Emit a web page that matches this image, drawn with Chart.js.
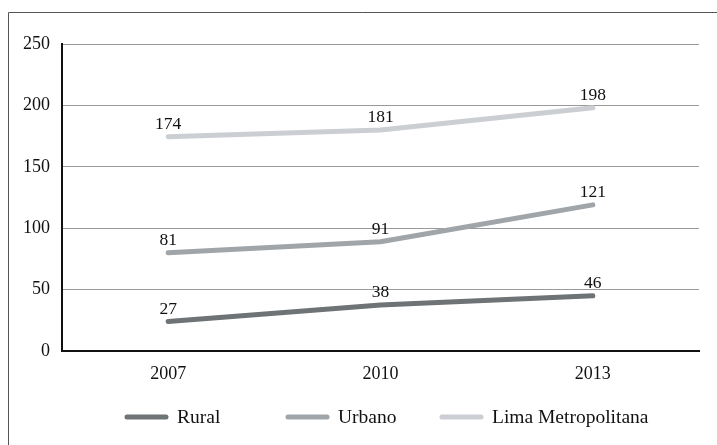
<!DOCTYPE html>
<html>
<head>
<meta charset="utf-8">
<script src="https://cdn.jsdelivr.net/npm/chart.js@4.4.1/dist/chart.umd.min.js"></script>
<style>
html,body{margin:0;padding:0;background:#fff;}
#wrap{position:relative;width:717px;height:445px;}
canvas{display:block;}
</style>
</head>
<body>
<div id="wrap"><canvas id="c" width="717" height="445"></canvas></div>
<script>
const categories = ["2007", "2010", "2013"];
const seriesNames = ["Rural", "Urbano", "Lima Metropolitana"];
const rural = [24, 37.5, 45];
const urbano = [80, 89, 119];
const lima = [174.5, 180, 198];
const ruralLabels = ["27", "38", "46"];
const urbanoLabels = ["81", "91", "121"];
const limaLabels = ["174", "181", "198"];
const yTicks = [0, 50, 100, 150, 200, 250];

const colors = ["#6e7376", "#a0a5aa", "#cbced3"];
const FONT = "'Liberation Serif', 'DejaVu Serif', serif";

const framePlugin = {
  id: 'frame',
  beforeDraw(chart) {
    const ctx = chart.ctx;
    ctx.save();
    ctx.strokeStyle = '#555';
    ctx.lineWidth = 1;
    ctx.beginPath();
    ctx.moveTo(8.5, 445);
    ctx.lineTo(8.5, 12.5);
    ctx.lineTo(717, 12.5);
    ctx.stroke();
    ctx.restore();
  }
};

const labelPlugin = {
  id: 'dataLabels',
  afterDatasetsDraw(chart) {
    const ctx = chart.ctx;
    ctx.save();
    ctx.font = "17.5px " + FONT;
    ctx.fillStyle = '#111';
    ctx.textAlign = 'center';
    ctx.textBaseline = 'alphabetic';
    chart.data.datasets.forEach((ds, i) => {
      const meta = chart.getDatasetMeta(i);
      meta.data.forEach((pt, j) => {
        ctx.fillText(ds.valueLabels[j], pt.x, pt.y - 8);
      });
    });
    ctx.restore();
  }
};

const legendPlugin = {
  id: 'customLegend',
  afterDraw(chart) {
    const ctx = chart.ctx;
    const xs = [125, 286, 440];
    const y = 417;
    ctx.save();
    ctx.font = "19.5px " + FONT;
    ctx.textBaseline = 'middle';
    ctx.textAlign = 'left';
    chart.data.datasets.forEach((ds, i) => {
      ctx.strokeStyle = ds.borderColor;
      ctx.lineWidth = 5;
      ctx.lineCap = 'round';
      ctx.beginPath();
      ctx.moveTo(xs[i] + 2, y);
      ctx.lineTo(xs[i] + 41, y);
      ctx.stroke();
      ctx.fillStyle = '#111';
      ctx.fillText(ds.label, xs[i] + 52, y + 1);
    });
    ctx.restore();
  }
};

new Chart(document.getElementById('c'), {
  type: 'line',
  data: {
    labels: categories,
    datasets: [
      { label: seriesNames[0], data: rural, valueLabels: ruralLabels, borderColor: colors[0] },
      { label: seriesNames[1], data: urbano, valueLabels: urbanoLabels, borderColor: colors[1] },
      { label: seriesNames[2], data: lima, valueLabels: limaLabels, borderColor: colors[2] }
    ].map(d => Object.assign(d, {
      borderWidth: 5, pointRadius: 0, pointHoverRadius: 0, tension: 0,
      borderCapStyle: 'round', borderJoinStyle: 'round', fill: false
    }))
  },
  options: {
    responsive: false,
    animation: false,
    events: [],
    layout: { padding: { left: 0, right: 18, top: 44, bottom: 0 } },
    plugins: { legend: { display: false }, tooltip: { enabled: false } },
    scales: {
      x: {
        offset: true,
        grid: { display: false, drawTicks: false },
        border: { display: true, color: '#111', width: 2 },
        ticks: { color: '#111', font: { family: FONT, size: 18 }, padding: 12 },
        afterFit(s) { s.height = 94; }
      },
      y: {
        min: 0, max: 250,
        afterBuildTicks(s) { s.ticks = yTicks.map(v => ({ value: v })); },
        grid: { color: '#9a9a9a', lineWidth: 1, drawTicks: false },
        border: { display: true, color: '#111', width: 2 },
        ticks: { color: '#111', font: { family: FONT, size: 18 }, padding: 12 },
        afterFit(s) { s.width = 62; }
      }
    }
  },
  plugins: [framePlugin, labelPlugin, legendPlugin]
});
</script>
</body>
</html>
